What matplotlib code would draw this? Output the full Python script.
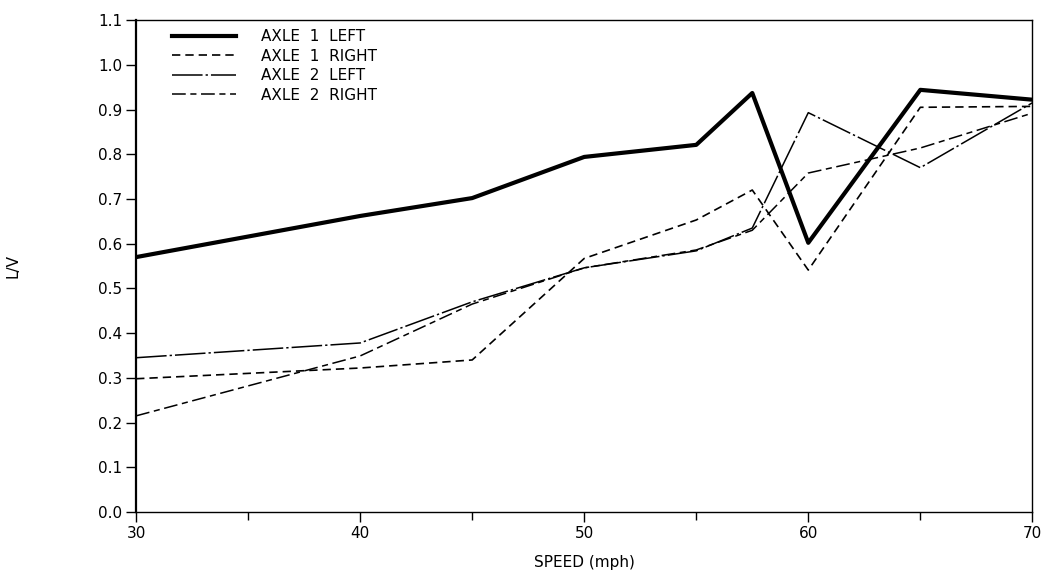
import matplotlib
matplotlib.use("Agg")
import matplotlib.pyplot as plt
from matplotlib.ticker import MultipleLocator

# speeds in mph
speed = [30, 40, 45, 50, 55, 57.5, 60, 65, 70]

axle1_left = [0.570, 0.662, 0.702, 0.794, 0.821, 0.937, 0.602, 0.944, 0.922]
axle1_right = [0.298, 0.322, 0.340, 0.567, 0.653, 0.720, 0.541, 0.905, 0.907]
axle2_left = [0.345, 0.378, 0.470, 0.546, 0.584, 0.635, 0.893, 0.770, 0.915]
axle2_right = [0.215, 0.349, 0.465, 0.546, 0.586, 0.630, 0.758, 0.814, 0.892]

labels = ["AXLE  1  LEFT", "AXLE  1  RIGHT", "AXLE  2  LEFT", "AXLE  2  RIGHT"]

plt.rcParams["font.family"] = ["DejaVu Sans"]

fig = plt.figure(figsize=(10.47, 5.74), dpi=100)
ax = fig.add_axes([0.130, 0.108, 0.856, 0.857])

ax.plot(speed, axle1_left, color="black", linewidth=3.0, label=labels[0])
ax.plot(speed, axle1_right, color="black", linewidth=1.2,
        linestyle=(0, (5, 3)), label=labels[1])
ax.plot(speed, axle2_left, color="black", linewidth=1.1,
        linestyle=(0, (20, 2, 1.5, 2)), label=labels[2])
ax.plot(speed, axle2_right, color="black", linewidth=1.1,
        linestyle=(0, (9, 3, 4, 3)), label=labels[3])

ax.set_xlim(30, 70)
ax.set_ylim(0, 1.1)
ax.xaxis.set_major_locator(MultipleLocator(10))
ax.xaxis.set_minor_locator(MultipleLocator(5))
ax.yaxis.set_major_locator(MultipleLocator(0.1))
ax.yaxis.set_major_formatter(matplotlib.ticker.FormatStrFormatter("%.1f"))
ax.tick_params(axis="both", which="major", direction="out", length=7,
               width=1, labelsize=11, pad=3)
ax.tick_params(axis="x", which="minor", direction="out", length=6, width=1)

for side in ["top", "right", "bottom"]:
    ax.spines[side].set_linewidth(1.0)
ax.spines["left"].set_linewidth(1.6)

ax.set_xlabel("SPEED (mph)", fontsize=11, labelpad=10)
ax.set_ylabel("L/V", fontsize=11, labelpad=56)

ax.legend(loc="upper left", bbox_to_anchor=(0.025, 1.01), frameon=False,
          fontsize=11, handlelength=4.2, handletextpad=1.6,
          labelspacing=0.3)

fig.savefig("out.png", dpi=100)
